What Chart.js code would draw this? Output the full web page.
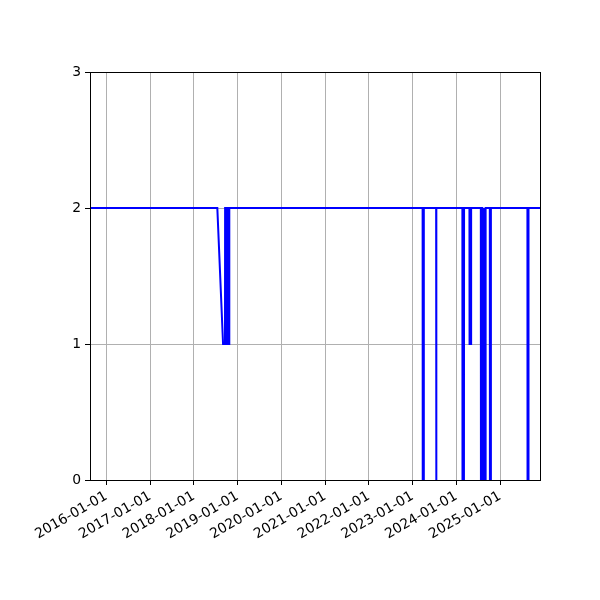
<!DOCTYPE html>
<html>
<head>
<meta charset="utf-8">
<script src="https://cdn.jsdelivr.net/npm/chart.js@4"></script>
<style>
html,body{margin:0;padding:0;background:#fff;}
canvas{display:block;}
</style>
</head>
<body>
<canvas id="c" width="600" height="600"></canvas>
<script>
// Data
const dates = [
  "2015-08-18","2018-07-16","2018-09-02","2018-09-18","2018-09-19","2018-09-27","2018-09-28",
  "2018-10-07","2018-10-08","2018-10-15","2018-10-16","2018-10-23","2018-10-24",
  "2023-03-26","2023-03-27","2023-04-04","2023-04-05",
  "2023-07-17","2023-07-18","2023-07-19",
  "2024-02-21","2024-02-22","2024-03-05","2024-03-06",
  "2024-04-20","2024-04-21","2024-05-03","2024-05-04",
  "2024-07-24","2024-07-25","2024-08-01","2024-08-02",
  "2024-08-05","2024-08-06","2024-08-19","2024-08-20",
  "2024-08-24","2024-08-25","2024-09-01","2024-09-02",
  "2024-10-07","2024-10-08","2024-10-15","2024-10-16",
  "2025-08-17","2025-08-18","2025-08-25","2025-08-26",
  "2025-11-30"
];
const values = [
  2,2,1,1,2,2,1,
  1,2,2,1,1,2,
  2,0,0,2,
  2,0,2,
  2,0,0,2,
  2,1,1,2,
  2,0,0,2,
  2,0,0,2,
  2,0,0,2,
  2,0,0,2,
  2,0,0,2,
  2
];
const xTickLabels = ["2016-01-01","2017-01-01","2018-01-01","2019-01-01","2020-01-01",
  "2021-01-01","2022-01-01","2023-01-01","2024-01-01","2025-01-01"];
const yTickValues = [0,1,2,3];
const xStart = "2015-08-18";
const xEnd = "2025-11-30";

const points = dates.map((d,i)=>({x: Date.parse(d), y: values[i]}));
const FONT = {family: "'DejaVu Sans'", size: 13.9};

const framePlugin = {
  id: 'frame',
  afterDraw(chart){
    const a = chart.chartArea, ctx = chart.ctx;
    ctx.save();
    ctx.strokeStyle = '#000';
    ctx.lineWidth = 1;
    ctx.strokeRect(Math.round(a.left)+0.5, Math.round(a.top)+0.5,
      Math.round(a.right-a.left), Math.round(a.bottom-a.top));
    ctx.restore();
  }
};

new Chart(document.getElementById('c'), {
  type: 'line',
  data: {
    datasets: [{
      data: points,
      borderColor: '#0000ff',
      borderWidth: 2,
      pointRadius: 0,
      tension: 0,
      fill: false,
      clip: 0
    }]
  },
  options: {
    responsive: false,
    animation: false,
    devicePixelRatio: 1,
    plugins: { legend: {display:false}, tooltip: {enabled:false} },
    layout: { padding: {top: 72, right: 60, left: 0, bottom: 0} },
    scales: {
      x: {
        type: 'linear',
        min: Date.parse(xStart),
        max: Date.parse(xEnd),
        afterBuildTicks(scale){
          scale.ticks = xTickLabels.map(l => ({value: Date.parse(l)}));
        },
        afterFit(scale){ scale.height = 120; },
        ticks: {
          autoSkip: false,
          maxRotation: 30,
          minRotation: 30,
          padding: 3,
          color: '#000',
          font: FONT,
          callback: (v, i) => xTickLabels[i]
        },
        grid: { color: '#b0b0b0', lineWidth: 1, tickColor: '#000', tickLength: 5, drawTicks: true },
        border: { display: false }
      },
      y: {
        min: 0,
        max: 3,
        afterBuildTicks(scale){
          scale.ticks = yTickValues.map(v => ({value: v}));
        },
        afterFit(scale){ scale.width = 90; },
        ticks: { color: '#000', font: FONT, padding: 4, callback: v => String(v) },
        grid: { color: '#b0b0b0', lineWidth: 1, tickColor: '#000', tickLength: 5, drawTicks: true },
        border: { display: false }
      }
    }
  },
  plugins: [framePlugin]
});
</script>
</body>
</html>
